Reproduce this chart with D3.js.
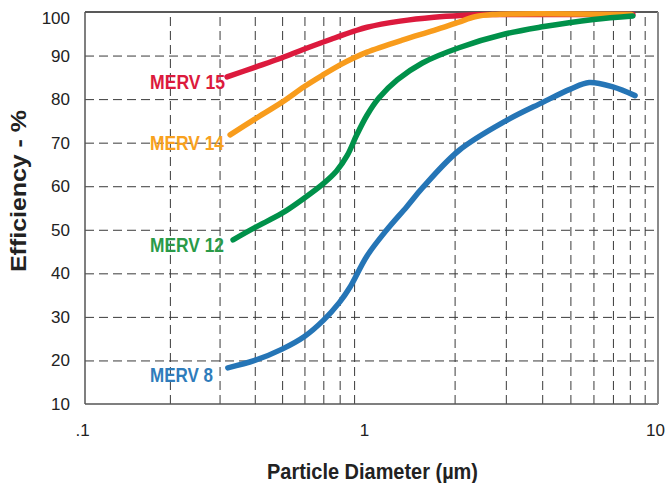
<!DOCTYPE html>
<html>
<head>
<meta charset="utf-8">
<script src="https://cdn.jsdelivr.net/npm/d3@7"></script>
<style>
  html, body { margin: 0; padding: 0; background: #fff; }
  svg { display: block; }
</style>
</head>
<body>
<svg id="chart" width="669" height="483"></svg>
<script>
// ---- Data ----
const seriesNames = ["MERV 15", "MERV 14", "MERV 12", "MERV 8"];
const merv15 = [[0.319,85.1],[0.4,87.3],[0.5,89.5],[0.6,91.5],[0.75,93.8],[0.9,95.6],[1.0,96.5],[1.3,97.9],[1.7,98.8],[2.1,99.2],[2.6,99.4],[8.2,99.4]];
const merv14 = [[0.327,71.8],[0.4,75.4],[0.5,79.3],[0.6,82.9],[0.7,85.6],[0.8,87.8],[0.9,89.5],[1.0,90.8],[1.33,93.6],[1.7,95.8],[2.07,97.7],[2.35,98.9],[2.7,99.4],[8.1,99.4]];
const merv12 = [[0.335,47.7],[0.4,50.5],[0.5,53.8],[0.6,57.3],[0.7,60.6],[0.78,63.5],[0.85,67.0],[0.92,71.8],[1.0,76.3],[1.1,80.3],[1.27,84.4],[1.55,88.3],[2.07,91.8],[3.0,95.0],[4.0,96.6],[6.0,98.3],[8.2,99.1]];
const merv8  = [[0.321,18.3],[0.4,20.0],[0.5,22.6],[0.6,25.5],[0.7,29.2],[0.8,33.4],[0.87,36.8],[1.0,44.0],[1.17,50.0],[1.37,55.3],[1.55,59.6],[2.07,68.2],[3.0,75.0],[4.0,79.2],[5.0,82.3],[5.8,83.8],[7.0,82.8],[8.34,80.8]];
const seriesColors = ["#dc1a3d", "#f89c1c", "#00914a", "#2575b6"];
const labelColors  = ["#dc1a3d", "#f8a11e", "#2a9a48", "#2f7cbb"];
const yTicks = [10,20,30,40,50,60,70,80,90,100];
const yGrid = [20,30,40,50,60,70,80,90];
const xGrid = [0.2,0.3,0.4,0.5,0.6,0.7,0.8,0.9,2,3,4,5,6,7,8,9];
const xLabelValues = [0.1, 1, 10];
const xLabelTexts = [".1", "1", "10"];
const xTitle = "Particle Diameter (\u00b5m)";
const yTitle = "Efficiency - %";

// ---- Layout ----
const L = 85, R = 658, T = 12, B = 404;
const svg = d3.select("#chart");
const x = d3.scaleLog().domain([0.1, 1, 10]).range([L, 367, R]);
const y = d3.scaleLinear().domain([10, 100]).range([B, T]);

const tickFont = "'Liberation Sans', Arial, Helvetica, sans-serif";
const boldFont = "'Liberation Sans Narrow', 'Arial Narrow', 'Liberation Sans', Arial, sans-serif";

// horizontal gridlines
const gy = svg.append("g").attr("transform", `translate(${L},0)`)
  .call(d3.axisLeft(y).tickValues(yGrid).tickSize(-(R - L)).tickFormat(""));
gy.select(".domain").remove();
gy.selectAll("line").attr("stroke", "#3a3a3a").attr("stroke-width", 1).attr("stroke-dasharray", "9,5");

// vertical gridlines
const gx = svg.append("g").attr("transform", `translate(0,${B})`)
  .call(d3.axisBottom(x).tickValues(xGrid).tickSize(-(B - T)).tickFormat(""));
gx.select(".domain").remove();
gx.selectAll("line").attr("stroke", "#3a3a3a").attr("stroke-width", 1).attr("stroke-dasharray", "9,5");

// frame
svg.append("line").attr("x1", L).attr("x2", R).attr("y1", T).attr("y2", T).attr("stroke", "#222").attr("stroke-width", 1.3);
svg.append("line").attr("x1", L).attr("x2", R).attr("y1", B).attr("y2", B).attr("stroke", "#555").attr("stroke-width", 1.5);
svg.append("line").attr("x1", L).attr("x2", L).attr("y1", T).attr("y2", B).attr("stroke", "#555").attr("stroke-width", 1.5);
svg.append("line").attr("x1", R).attr("x2", R).attr("y1", T).attr("y2", B).attr("stroke", "#8a8a8a").attr("stroke-width", 2);

// y tick labels
const ya = svg.append("g").attr("transform", `translate(${L},0)`)
  .call(d3.axisLeft(y).tickValues(yTicks).tickSize(0).tickPadding(15));
ya.select(".domain").remove();
ya.selectAll("text").attr("font-family", tickFont).attr("font-size", 17).attr("fill", "#222")
  .attr("dy", d => d === 100 ? "0.7em" : "0.32em");

// x tick labels
const xa = svg.append("g").attr("transform", `translate(0,${B})`)
  .call(d3.axisBottom(x).tickValues(xLabelValues).tickSize(0).tickPadding(20)
    .tickFormat((d, i) => xLabelTexts[i]));
xa.select(".domain").remove();
xa.selectAll("text").attr("font-family", tickFont).attr("font-size", 17).attr("fill", "#222").attr("dx", -3);

// curves
const line = d3.line().x(d => x(d[0])).y(d => y(d[1])).curve(d3.curveCatmullRom.alpha(0.5));
const allSeries = [merv15, merv14, merv12, merv8];
svg.append("g").selectAll("path").data(allSeries).join("path")
  .attr("d", line)
  .attr("fill", "none")
  .attr("stroke", (d, i) => seriesColors[i])
  .attr("stroke-width", 5.5)
  .attr("stroke-linecap", "round")
  .attr("stroke-linejoin", "round");

// series labels (placed left of each curve start)
const labelBaselines = [89, 150, 252, 382];
const labelWidths = [75, 74, 74, 63];
svg.append("g").selectAll("text").data(seriesNames).join("text")
  .attr("x", 150)
  .attr("y", (d, i) => labelBaselines[i])
  .attr("font-family", boldFont)
  .attr("font-weight", "bold")
  .attr("font-size", 21)
  .attr("fill", (d, i) => labelColors[i])
  .attr("textLength", (d, i) => labelWidths[i])
  .attr("lengthAdjust", "spacingAndGlyphs")
  .text(d => d);

// axis titles
svg.append("text")
  .attr("x", 267).attr("y", 479)
  .attr("font-family", boldFont).attr("font-weight", "bold").attr("font-size", 22)
  .attr("fill", "#222")
  .attr("textLength", 211).attr("lengthAdjust", "spacingAndGlyphs")
  .text(xTitle);

svg.append("text")
  .attr("transform", "translate(26,272) rotate(-90)")
  .attr("font-family", boldFont).attr("font-weight", "bold").attr("font-size", 22)
  .attr("fill", "#222")
  .attr("textLength", 162).attr("lengthAdjust", "spacingAndGlyphs")
  .text(yTitle);
</script>
</body>
</html>
